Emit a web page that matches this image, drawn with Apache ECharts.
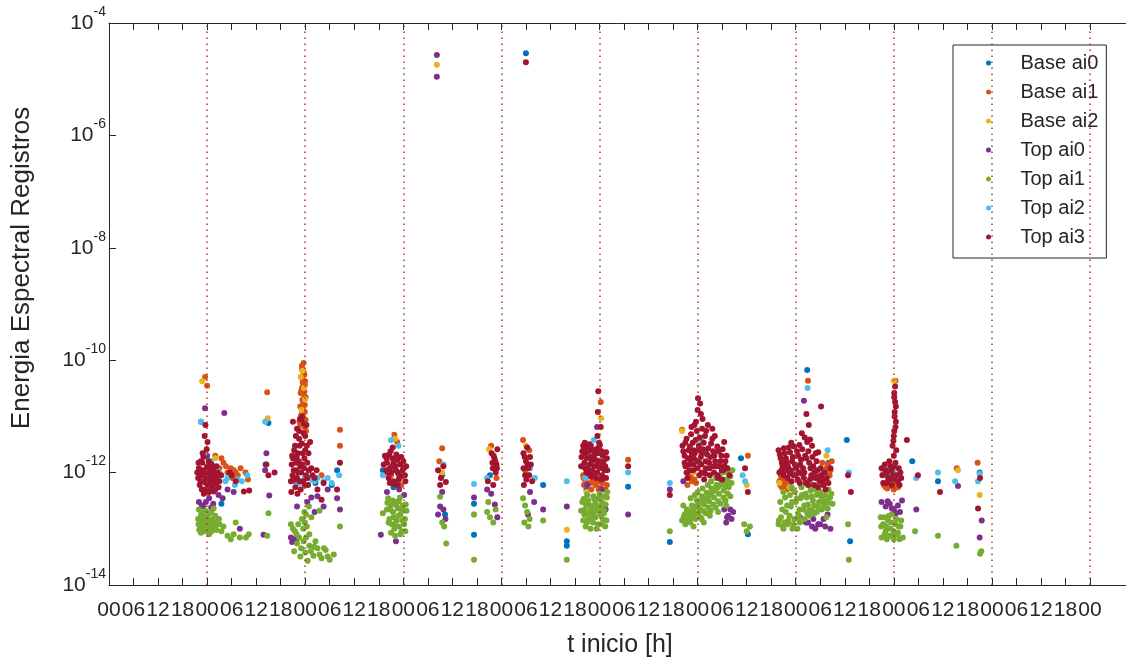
<!DOCTYPE html>
<html><head><meta charset="utf-8">
<script src="https://cdn.jsdelivr.net/npm/echarts@6/dist/echarts.min.js"></script>
<style>html,body{margin:0;padding:0;background:#fff}#c{width:1126px;height:662px}</style>
</head><body><div id="c"></div>
<script>
// ---------- DATA ----------
const seriesNames = ['Base ai0','Base ai1','Base ai2','Top ai0','Top ai1','Top ai2','Top ai3'];
const seriesColors = ['#0072BD','#D95319','#EDB120','#7E2F8E','#77AC30','#4DBEEE','#A2142F'];
const xTickValues = [0,6,12,18,24,30,36,42,48,54,60,66,72,78,84,90,96,102,108,114,120,126,132,138,144,150,156,162,168,174,180,186,192,198,204,210,216,222,228,234,240];
const xTickLabels = ['00','06','12','18','00','06','12','18','00','06','12','18','00','06','12','18','00','06','12','18','00','06','12','18','00','06','12','18','00','06','12','18','00','06','12','18','00','06','12','18','00'];
const yTickValues = [1e-14,1e-12,1e-10,1e-8,1e-6,1e-4];
const yTickExponents = ['-14','-12','-10','-8','-6','-4'];
const dayLines = [24,48,72,96,120,144,168,192,216,240];

// [t inicio (h), energia]
const baseAi0 = [[23.0,1.0e-12],[22.5,8e-12],[27.5,2.8e-13],[39.0,7.6e-12],[38.3,1.4e-12],[45.5,7e-13],[50.5,6.5e-13],[54.5,6e-13],[55.8,1.1e-12],[67.0,1.1e-12],[69.6,5.5e-13],[81.5,9e-13],[82.2,1.8e-13],[89.3,2.8e-13],[89.3,7.8e-14],[93.2,9e-13],[102.5,9e-13],[106.2,6e-13],[112.0,5e-14],[112.0,6e-14],[116.8,5e-13],[127.0,5.6e-13],[137.2,5.8e-14],[144.5,1.5e-12],[146.0,2.4e-12],[154.6,1.8e-12],[156.3,8e-14],[166.0,1.2e-12],[170.8,6.7e-11],[176.0,1.5e-12],[180.5,3.8e-12],[181.3,6e-14],[190.5,9e-13],[191.5,1.1e-12],[196.5,1.6e-12],[202.8,7e-13],[213.0,1.0e-12],[102.0,2.9e-5]];
const baseAi1 = [[23.5,5e-11],[24.0,3.5e-11],[24.5,1.6e-12],[26.0,2e-12],[27.0,1.2e-12],[28.0,1.5e-12],[29.0,1.0e-12],[30.5,1.1e-12],[25.2,8e-13],[31.5,9e-13],[38.7,2.7e-11],
 [28.6,1.3e-12],[29.8,1.2e-12],[31.0,1.0e-12],[32.2,1.2e-12],[33.4,1.0e-12],[34.0,7.5e-13],[27.5,1.8e-12],[30.2,8e-13],
 [47.6,8.9e-11],[47.2,7e-11],[47.8,5.5e-11],[47.4,4.5e-11],[47.9,3.6e-11],[47.1,3e-11],[47.7,2.4e-11],[47.3,1.95e-11],[47.9,1.6e-11],[47.5,1.3e-11],[47.0,1.05e-11],[48.1,8.7e-12],[46.8,7.1e-12],[48.2,5.5e-12],[47.4,4e-11],[47.8,2.8e-11],
 [47.2,8e-11],[47.6,6.2e-11],[47.0,5e-11],[48.0,4.2e-11],[47.3,3.3e-11],[46.9,2.6e-11],[48.1,2.2e-11],[47.5,1.8e-11],[46.8,1.5e-11],[47.9,1.2e-11],[47.3,9.5e-12],[47.8,6.5e-12],[46.6,8e-12],
 [56.5,5.8e-12],[56.5,3e-12],[52.0,9e-13],
 [69.8,4.7e-12],[70.5,3.5e-12],[69.0,9e-13],[71.5,6e-13],[81.5,2.7e-12],[80.8,1.6e-12],[93.5,3e-12],[94.8,8e-13],[101.3,3.8e-12],[102.8,2.5e-12],[101.8,1.1e-12],
 [120.3,1.8e-11],[116.0,9e-13],[116.6,7e-13],[117.2,8.5e-13],[117.8,6.5e-13],[118.4,7.5e-13],[119.0,6e-13],[119.6,7e-13],[120.2,5.5e-13],[120.8,6.5e-13],[121.4,5e-13],[118.0,5e-13],[116.2,6e-13],
 [116.1,8e-13],[117.0,6e-13],[118.8,9e-13],[119.8,5e-13],[121.0,8e-13],[121.8,6e-13],[127.0,1.7e-12],
 [142.0,8e-13],[142.6,7e-13],[143.2,7.5e-13],[141.5,6e-13],[140.2,5.8e-12],[156.3,2e-12],[142.3,9e-13],[143.6,6.5e-13],
 [171.0,4.3e-11],[164.0,7e-13],[164.6,5.5e-13],[165.2,6.5e-13],[165.8,5e-13],[166.4,6e-13],[167.0,5.2e-13],[164.4,8.5e-13],[174.5,1.5e-12],[175.5,1.2e-12],[176.3,9e-13],[175.0,7e-13],[176.8,1.6e-12],
 [164.2,6e-13],[164.9,7.5e-13],[165.5,5.8e-13],[166.1,7e-13],[166.8,5.5e-13],[174.8,1.0e-12],[175.9,1.4e-12],[176.5,1.1e-12],
 [189.6,6e-13],[190.4,5.2e-13],[191.2,5.8e-13],[192.0,5e-13],[193.0,5.5e-13],[192.4,4.3e-11],[190.0,5.5e-13],[190.8,6e-13],[192.6,6e-13],[207.4,1.2e-12],[212.5,1.5e-12]];
const baseAi2 = [[22.8,4.2e-11],[27.0,1.0e-12],[26.0,1.8e-12],[38.8,9.3e-12],[47.3,6.5e-11],[47.7,3.2e-11],[47.1,1.3e-11],[48.0,2.0e-11],[46.9,5e-11],[70.0,4.0e-12],[81.5,1.0e-12],[89.3,1.8e-13],[93.0,2.6e-12],[102.0,3.0e-12],[112.0,9.6e-14],[120.4,9.3e-12],[118.0,9e-13],[116.8,4.5e-13],[140.2,5.5e-12],[143.0,1.0e-12],[156.0,6e-13],[164.0,6.5e-13],[165.0,4.5e-13],[166.5,5.5e-13],[175.5,2.0e-12],[191.0,6.5e-13],[192.0,4.3e-11],[207.7,1.1e-12],[213.0,4e-13],[80.2,1.8e-5]];
const topAi0 = [[22.0,3e-13],[23.0,2.5e-13],[24.5,3.5e-13],[25.5,2.8e-13],[23.5,1.4e-11],[26.8,4e-13],[27.8,3.5e-13],[29.0,5e-13],[30.5,4.5e-13],[28.2,1.15e-11],[32.0,1.0e-13],[24.0,2e-12],[22.4,1.6e-12],[23.7,3e-13],[25.0,2.4e-13],[22.7,2.6e-13],
 [38.5,2.2e-12],[39.2,3.9e-13],[38.2,1.1e-12],[37.8,7.8e-14],
 [44.5,7e-14],[45.3,6.5e-14],[44.8,5.8e-14],[45.8,6e-14],[46.0,2.5e-13],[48.5,3e-13],[49.5,3.6e-13],[51.0,3.8e-13],[52.5,2.5e-13],[53.5,5e-13],[55.8,3.5e-13],[56.5,2.2e-13],[50.3,2e-13],
 [68.0,4.5e-13],[71.0,5e-13],[72.2,4e-13],[66.5,7.8e-14],[70.2,6e-14],
 [81.0,2.5e-13],[81.8,2.2e-13],[80.5,1.8e-13],[82.3,1.5e-13],[81.5,4.5e-13],
 [89.3,3.6e-13],[92.5,5e-13],[93.5,4.2e-13],[94.4,2.7e-13],[95.0,1.6e-13],
 [103.0,4.5e-13],[104.0,3e-13],[106.2,2.2e-13],[102.5,1.8e-13],[112.0,2.5e-13],
 [117.0,6e-13],[119.4,6.5e-12],[120.5,5e-13],[121.5,2.2e-13],[127.0,1.8e-13],[137.2,5e-13],
 [140.5,7e-13],[150.5,2.2e-13],[151.5,1.7e-13],[152.3,1.5e-13],[151.0,1.3e-13],[152.7,2.0e-13],[151.2,1.6e-13],[152.0,2.2e-13],
 [170.0,1.9e-11],[169.0,1.6e-13],[170.5,1.3e-13],[172.0,1.1e-13],[173.5,1.2e-13],[174.8,1.5e-13],[175.8,1.8e-13],[176.5,1.0e-13],[172.8,1.0e-13],[171.0,1.3e-13],[172.3,1.5e-13],[174.0,1.2e-13],[175.2,1.1e-13],
 [189.0,3e-13],[190.0,2.5e-13],[191.0,2.8e-13],[192.0,2.2e-13],[193.0,2.6e-13],[194.0,3.2e-13],[192.5,1.9e-13],[197.5,2.2e-13],[190.5,3.1e-13],[191.5,2.3e-13],[193.5,2.0e-13],
 [207.7,5.8e-13],[213.5,1.4e-13],[213.0,7e-14],[80.2,2.7e-5],[80.2,1.1e-5]];
const topAi1 = [[21.8,1.5e-13],[22.3,1.1e-13],[22.8,1.3e-13],[23.3,9e-14],[23.8,1.2e-13],[24.3,1.0e-13],[24.8,1.4e-13],[25.3,1.1e-13],[25.8,1.3e-13],[26.3,9.5e-14],[22.0,2.2e-13],[23.0,1.8e-13],[24.0,1.6e-13],[25.0,2.0e-13],[26.0,1.7e-13],[22.5,8.5e-14],[24.5,8e-14],[27.0,1.2e-13],[27.5,9e-14],[28.0,1.1e-13],[29.0,7.5e-14],[30.5,8e-14],[32.0,7e-14],[33.5,7e-14],[34.2,8e-14],[31.0,1.3e-13],[29.8,6.5e-14],
 [21.9,1.2e-13],[22.4,1.6e-13],[22.9,1.0e-13],[23.4,1.4e-13],[23.9,9.5e-14],[24.4,1.3e-13],[24.9,1.1e-13],[25.4,1.5e-13],[25.9,1.0e-13],[26.5,1.2e-13],[22.6,1.9e-13],[23.6,2.1e-13],[24.6,1.9e-13],[25.6,2.3e-13],[23.1,1.15e-13],[24.1,1.15e-13],[25.1,9e-14],[26.9,1.5e-13],[22.1,9.5e-14],
 [39.0,1.9e-13],[38.7,7.5e-14],
 [44.5,1.2e-13],[45.5,9e-14],[46.5,7e-14],[47.2,1.5e-13],[47.8,2.0e-13],[48.4,1.1e-13],[49.0,8e-14],[46.0,5.5e-14],[47.0,4.5e-14],[48.0,3.8e-14],[49.0,5e-14],[50.0,3.3e-14],[51.0,4.5e-14],[52.0,3e-14],[53.0,4.2e-14],[54.0,2.8e-14],[46.8,3.2e-14],[48.6,2.7e-14],[50.5,6e-14],[45.3,4e-14],[55.0,3.5e-14],[49.5,1.6e-13],[48.9,2.5e-13],[51.5,2.1e-13],[56.5,1.1e-13],
 [45.0,1.0e-13],[45.9,8e-14],[46.3,1.2e-13],[47.5,1.0e-13],[48.2,7e-14],[47.6,6e-14],[49.4,4e-14],[50.2,4.8e-14],[51.5,3.5e-14],[52.6,4.5e-14],[53.5,3.2e-14],[47.9,1.3e-13],[48.2,1.8e-13],
 [68.3,3.5e-13],[68.9,2.6e-13],[69.5,2.0e-13],[70.1,3e-13],[70.7,2.3e-13],[71.3,1.8e-13],[71.9,2.6e-13],[72.4,1.5e-13],[68.6,1.5e-13],[69.2,1.2e-13],[69.8,1.0e-13],[70.4,1.4e-13],[71.0,1.1e-13],[71.6,9e-14],[72.2,1.2e-13],[70.0,7.5e-14],[69.0,8.5e-14],[72.8,2.1e-13],[71.2,3.6e-13],[68.0,2.2e-13],[67.0,1.9e-13],
 [68.1,2.9e-13],[68.8,2.2e-13],[69.4,3.2e-13],[70.3,2.6e-13],[70.9,3.1e-13],[71.6,2.2e-13],[72.6,2.7e-13],[68.4,1.3e-13],[69.6,1.6e-13],[70.8,1.7e-13],[71.8,1.4e-13],[72.5,9e-14],[69.9,1.2e-13],[71.3,8e-14],
 [81.0,3.7e-13],[81.5,1.3e-13],[82.0,1.1e-13],[82.5,5.5e-14],
 [89.3,1.8e-13],[89.3,2.8e-14],[92.5,2.0e-13],[93.2,1.6e-13],[94.0,1.3e-13],[94.6,2.2e-13],[92.8,3.0e-13],
 [101.3,3.5e-13],[101.8,2.6e-13],[102.3,2.0e-13],[102.9,1.5e-13],[101.6,1.3e-13],[102.6,1.1e-13],[106.2,1.4e-13],[112.0,2.8e-14],
 [115.8,3e-13],[116.4,2.2e-13],[117.0,4e-13],[117.6,2.6e-13],[118.2,1.8e-13],[118.8,3.3e-13],[119.4,2.4e-13],[120.0,4.2e-13],[120.6,3e-13],[121.2,2.1e-13],[121.8,3.6e-13],[116.0,1.4e-13],[116.6,1.1e-13],[117.2,1.5e-13],[117.8,1.0e-13],[118.4,1.3e-13],[119.0,1.6e-13],[119.6,1.2e-13],[120.2,1.8e-13],[120.8,1.5e-13],[121.4,1.1e-13],[115.5,2.1e-13],[118.6,2.6e-13],[121.9,4.5e-13],
 [116.1,3.4e-13],[116.7,2.7e-13],[117.3,3.2e-13],[117.9,2.2e-13],[118.5,3.8e-13],[119.1,2.8e-13],[119.7,3.5e-13],[120.3,2.5e-13],[120.9,3.8e-13],[121.5,2.7e-13],[116.3,1.8e-13],[117.5,1.9e-13],[118.7,2.0e-13],[119.9,2.1e-13],[121.1,1.9e-13],[116.9,1.3e-13],[118.1,1.5e-13],[119.3,1.0e-13],[120.5,1.2e-13],[121.7,1.4e-13],
 [137.2,9e-14],
 [140.2,1.4e-13],[140.8,1.8e-13],[141.4,2.2e-13],[142.0,1.5e-13],[142.6,2.6e-13],[143.2,1.9e-13],[143.8,3.2e-13],[144.4,2.3e-13],[145.0,3.8e-13],[145.6,2.7e-13],[146.2,4.4e-13],[146.8,3.1e-13],[147.4,5.2e-13],[148.0,3.6e-13],[148.6,6e-13],[149.2,4.2e-13],[149.8,7e-13],[150.4,4.8e-13],[151.0,7.5e-13],[151.6,5.5e-13],[152.3,6.5e-13],[141.0,1.2e-13],[142.2,1.3e-13],[143.5,1.5e-13],[144.7,1.6e-13],[146.0,1.9e-13],[147.2,2.1e-13],[148.4,2.4e-13],[149.6,2.8e-13],[150.8,3.2e-13],[152.0,3.8e-13],[143.0,1.1e-13],[145.5,1.3e-13],[140.5,2.6e-13],[142.3,3.5e-13],[144.0,4.5e-13],[146.5,6e-13],[148.5,8e-13],[150.2,1.0e-12],[152.5,1.1e-12],[155.4,1.2e-13],[156.0,9e-14],[156.8,1.1e-13],
 [140.6,1.6e-13],[141.2,1.9e-13],[141.8,1.7e-13],[142.4,2.0e-13],[143.0,2.3e-13],[143.6,2.5e-13],[144.2,2.8e-13],[144.8,3.0e-13],[145.4,3.3e-13],[146.0,3.5e-13],[146.6,3.8e-13],[147.2,4.2e-13],[147.8,4.6e-13],[148.4,5e-13],[149.0,5.5e-13],[149.6,6e-13],[150.2,6.5e-13],[150.8,5.8e-13],[151.4,6.8e-13],[152.0,8.5e-13],[141.6,1.4e-13],[142.8,1.6e-13],[144.1,1.9e-13],[145.3,2.1e-13],[146.6,2.4e-13],[147.8,2.7e-13],[149.0,3.1e-13],[150.3,3.6e-13],[151.4,4.2e-13],[145.0,1.5e-13],[147.0,1.7e-13],[149.0,2.0e-13],[151.0,2.6e-13],[143.3,4e-13],[145.2,5.2e-13],[147.3,7e-13],[149.3,9e-13],[151.3,1.0e-12],
 [163.8,1.2e-13],[164.4,1.6e-13],[165.0,1.0e-13],[165.6,2.0e-13],[166.2,1.4e-13],[166.8,2.5e-13],[167.4,1.2e-13],[168.0,3.0e-13],[168.6,1.8e-13],[169.2,3.5e-13],[169.8,2.2e-13],[170.4,4.2e-13],[171.0,2.7e-13],[171.6,4.8e-13],[172.2,3.2e-13],[172.8,5e-13],[173.4,2.5e-13],[174.0,4.5e-13],[174.6,3e-13],[175.2,4e-13],[175.8,2.3e-13],[176.4,3.6e-13],[177.0,2.8e-13],[164.2,3e-13],[165.4,3.6e-13],[166.6,4e-13],[167.8,4.5e-13],[169.0,1.3e-13],[170.2,1.5e-13],[171.4,1.7e-13],[172.6,1.9e-13],[168.4,1.0e-13],[173.8,6e-13],[176.0,5e-13],[175.5,1.6e-13],[180.8,1.2e-13],[181.0,2.8e-14],
 [163.9,1.4e-13],[164.7,2.2e-13],[165.3,1.3e-13],[165.9,2.6e-13],[166.5,1.7e-13],[167.1,3.0e-13],[167.7,1.5e-13],[168.3,3.5e-13],[168.9,2.2e-13],[169.5,4.0e-13],[170.1,2.6e-13],[170.7,3.6e-13],[171.3,2.2e-13],[171.9,3.8e-13],[172.5,2.6e-13],[173.1,4.0e-13],[173.7,3.0e-13],[174.3,3.7e-13],[174.9,2.6e-13],[175.5,3.2e-13],[176.1,2.9e-13],[176.7,4.2e-13],[164.8,1.1e-13],[166.0,1.2e-13],[167.2,1.0e-13],[168.9,1.5e-13],[170.8,1.9e-13],[172.0,2.1e-13],[173.2,2.0e-13],[174.4,2.2e-13],[165.0,4.5e-13],[167.0,5.5e-13],[169.4,5.5e-13],[171.8,6e-13],
 [188.8,1.6e-13],[189.4,1.2e-13],[190.0,9e-14],[190.6,1.4e-13],[191.2,1.0e-13],[191.8,7.5e-14],[192.4,1.2e-13],[193.0,8.5e-14],[193.6,1.1e-13],[189.0,7e-14],[190.3,6.5e-14],[192.0,6.5e-14],[194.2,7e-14],[191.5,1.8e-13],[197.2,9e-14],
 [188.9,1.1e-13],[189.6,1.6e-13],[190.2,1.1e-13],[190.8,1.7e-13],[191.4,1.3e-13],[192.0,9e-14],[192.6,1.5e-13],[193.2,1.1e-13],[193.8,1.4e-13],[189.8,8e-14],[191.0,7.5e-14],[192.8,8e-14],[193.4,6.5e-14],
 [202.8,7.5e-14],[207.3,5e-14],[213.4,4e-14],[213.1,3.6e-14]];
const topAi2 = [[22.5,8e-12],[23.3,2.2e-12],[25.0,1.6e-12],[26.5,1.1e-12],[27.5,9e-13],[29.0,8e-13],[30.8,6e-13],[32.5,7e-13],[33.8,9e-13],[24.2,1.2e-12],[26.0,9e-13],[28.5,7e-13],[31.5,7.5e-13],[38.2,8e-12],[45.0,7.5e-13],[46.5,6.5e-13],[46.0,7e-13],[47.8,7.8e-13],[50.2,7e-13],[49.5,7.5e-13],[51.0,8e-13],[52.5,7e-13],[53.5,8e-13],[54.5,6.5e-13],[56.3,9e-13],[67.0,9e-13],[69.0,3.8e-12],[70.8,3e-12],[81.8,1.4e-12],[89.3,6.3e-13],[92.5,8e-13],[103.0,1.2e-12],[104.2,8e-13],[112.0,7e-13],[118.6,3.8e-12],[116.5,8e-13],[117.5,1.1e-12],[120.9,1.4e-12],[127.0,1.0e-12],[137.2,6.5e-13],[155.0,9e-13],[155.6,7e-13],[145.0,3.6e-12],[170.9,3.2e-11],[165.5,1.5e-12],[167.5,1.1e-12],[169.0,1.3e-12],[172.5,1.1e-12],[175.8,2.5e-12],[181.0,1.0e-12],[189.5,1.0e-12],[190.5,1.1e-12],[191.5,9e-13],[192.5,1.2e-12],[190.9,1.15e-12],[191.9,1.0e-12],[197.5,8e-13],[202.8,1.0e-12],[207.0,7e-13],[213.0,9.5e-13],[212.6,7e-13]];
const topAi3 = [[22.0,1.2e-12],[22.5,9e-13],[23.0,7e-13],[23.3,1.1e-12],[23.8,8e-13],[24.2,6e-13],[24.6,9.5e-13],[25.0,7.5e-13],[25.3,5.5e-13],[25.8,8.5e-13],[26.2,6.5e-13],[26.6,1.0e-12],[27.0,7e-13],[22.2,6e-13],[23.5,5e-13],[24.8,4.8e-13],[25.5,1.2e-12],[22.8,1.5e-12],[24.0,1.3e-12],[26.0,5e-13],[27.4,9e-13],[23.2,4.2e-13],[21.8,8e-13],[23.6,7e-12],[24.1,3.5e-12],[22.9,2.2e-12],
 [21.6,1.0e-12],[22.6,1.1e-12],[23.4,9e-13],[23.9,1.1e-12],[24.4,8e-13],[24.9,1.1e-12],[25.6,9.5e-13],[26.4,8e-13],[22.4,7e-13],[23.7,6.5e-13],[24.7,6.5e-13],[25.9,6.5e-13],[26.8,5.5e-13],[22.7,5e-13],[24.3,4.4e-13],[25.6,4.6e-13],[21.9,1.5e-12],[23.1,1.9e-12],[24.4,1.6e-12],[25.1,1.4e-12],[26.3,1.3e-12],[23.9,2.6e-12],[23.4,4.5e-12],
 [29.5,1.0e-12],[31.0,7e-13],[33.0,4.6e-13],[34.3,4.8e-13],[30.0,9e-13],[38.5,1.4e-12],[39.0,9e-13],[40.5,1.0e-12],
 [45.0,8e-12],[46.0,6e-12],[47.0,9e-12],[47.6,5e-12],[48.3,7e-12],[46.5,4e-12],[45.5,3e-12],[47.2,3.3e-12],[48.0,2.5e-12],[46.2,2.2e-12],[44.8,2e-12],[47.8,1.8e-12],[45.8,1.5e-12],[46.8,1.3e-12],[48.5,1.5e-12],[45.2,1.1e-12],[47.0,1.0e-12],[48.2,9e-13],[46.0,8e-13],[44.5,7e-13],[47.5,7e-13],[45.6,5.5e-13],[46.9,5e-13],[48.7,6e-13],[49.5,1.2e-12],[50.3,8e-13],[45.0,1.8e-12],[47.3,1.4e-12],[46.3,1.0e-12],[48.8,2.2e-12],[49.2,3.5e-12],[44.6,4.5e-13],[46.1,4.2e-13],[51.0,5e-13],[52.5,6.5e-13],[56.5,1.5e-12],[55.8,5e-13],[52.0,3.3e-13],
 [45.3,2.5e-12],[46.6,3e-12],[47.4,2.2e-12],[48.4,3e-12],[45.9,1.9e-12],[46.4,1.6e-12],[47.7,1.2e-12],[48.9,1.1e-12],[44.9,9e-13],[45.9,1.1e-12],[46.6,7e-13],[47.9,6e-13],[48.5,8e-13],[45.4,7.5e-13],[46.5,5.5e-12],[47.7,7.5e-12],[48.0,4.5e-12],[45.7,4.5e-12],[46.7,9e-12],[47.3,1.0e-11],[44.7,1.4e-12],[49.8,9e-13],[50.8,1.1e-12],
 [67.5,2e-12],[68.0,1.5e-12],[68.7,1.2e-12],[69.3,1.8e-12],[70.0,1.3e-12],[70.6,1.0e-12],[71.2,1.4e-12],[71.8,1.1e-12],[72.4,9e-13],[68.4,8e-13],[69.6,7e-13],[70.9,7.5e-13],[72.0,1.6e-12],[69.0,1.0e-12],[67.8,1.1e-12],[71.5,8.5e-13],[70.3,2.1e-12],[72.7,1.3e-12],[69.9,6.2e-13],[68.9,2.4e-12],
 [67.2,1.4e-12],[67.9,1.8e-12],[68.5,2.1e-12],[69.6,1.5e-12],[70.5,1.7e-12],[71.5,1.9e-12],[72.1,1.2e-12],[68.2,1.0e-12],[69.2,1.3e-12],[70.2,1.1e-12],[71.0,9e-13],[72.5,7e-13],[68.7,6.5e-13],[70.6,6e-13],[69.4,2.8e-12],
 [80.5,1.1e-12],[81.2,8e-13],[81.8,1.3e-12],[82.4,6.8e-13],[81.0,6e-13],
 [93.6,2.2e-12],[94.3,1.8e-12],[94.8,1.4e-12],[93.9,1.2e-12],[94.6,1.0e-12],[92.7,7e-13],[94.0,6e-13],[95.0,2.6e-12],[94.1,2.0e-12],[94.5,1.6e-12],[93.8,1.5e-12],[94.9,1.2e-12],
 [101.4,2.2e-12],[102.0,1.6e-12],[102.6,1.2e-12],[101.8,9e-13],[103.2,1.4e-12],[102.3,2.8e-12],[103.5,7e-13],[101.5,6e-13],[101.7,1.9e-12],[102.4,1.4e-12],[103.0,1.9e-12],[101.4,1.2e-12],[102.8,9e-13],[102.1,7.5e-13],
 [116.0,3e-12],[116.6,2.2e-12],[117.2,2.8e-12],[117.8,1.9e-12],[118.4,2.5e-12],[119.0,1.7e-12],[119.6,2.2e-12],[120.2,1.5e-12],[120.8,2e-12],[121.4,1.3e-12],[121.8,1.8e-12],[116.3,1.5e-12],[117.0,1.2e-12],[117.6,1.4e-12],[118.2,1.1e-12],[118.8,1.3e-12],[119.4,1.0e-12],[120.0,1.2e-12],[120.6,9e-13],[121.2,1.1e-12],[116.8,1.0e-12],[118.0,8.5e-13],[119.2,8e-13],[120.4,7.5e-13],[121.6,8e-13],[115.5,1.3e-12],[115.8,2.4e-12],[119.8,2.8e-12],[119.7,2.8e-11],[119.9,3.4e-12],[120.3,6.5e-12],[117.5,3.2e-12],
 [115.6,1.9e-12],[116.2,2.6e-12],[116.9,1.8e-12],[117.4,2.4e-12],[118.1,1.6e-12],[118.6,2.0e-12],[119.2,2.6e-12],[119.8,1.6e-12],[120.5,2.4e-12],[121.0,1.6e-12],[121.6,2.3e-12],[116.5,1.2e-12],[117.3,9.5e-13],[118.5,1.0e-12],[119.6,1.4e-12],[120.9,1.3e-12],[121.9,1.1e-12],[117.9,3.0e-12],[120.1,3.1e-12],[116.4,3.4e-12],[119.5,4.5e-12],[119.6,1.2e-11],
 [127.0,1.3e-12],[137.2,4e-13],
 [140.3,3e-12],[140.8,2e-12],[141.3,4e-12],[141.8,2.5e-12],[142.3,1.7e-12],[142.8,3.4e-12],[143.3,2.2e-12],[143.8,5.5e-12],[144.3,3e-12],[144.8,1.9e-12],[145.3,2.6e-12],[145.8,4.5e-12],[146.3,2.1e-12],[146.8,1.5e-12],[147.3,3.3e-12],[147.8,2.4e-12],[148.3,1.6e-12],[148.8,2.9e-12],[149.3,1.3e-12],[149.8,2e-12],[150.3,1.1e-12],[150.8,1.6e-12],[151.3,1.2e-12],[141.0,1.3e-12],[142.0,1.1e-12],[143.0,1.4e-12],[144.0,1.2e-12],[145.0,1.0e-12],[146.0,1.2e-12],[147.0,9e-13],[148.0,1.0e-12],[143.6,8e-12],[144.1,2.1e-11],[144.6,1.7e-11],[145.2,9e-12],[144.0,1.3e-11],[146.5,7e-12],[147.6,6e-12],[142.5,6.5e-12],[141.5,8e-13],[149.0,8e-13],[150.0,7.5e-13],[151.8,9e-13],[155.6,1.2e-12],[156.3,4.5e-13],[145.6,7.5e-13],[143.0,2.5e-12],
 [140.5,2.4e-12],[141.0,3.4e-12],[141.6,1.8e-12],[142.1,2.9e-12],[142.6,2.1e-12],[143.1,1.8e-12],[143.5,3.8e-12],[144.0,2.5e-12],[144.5,4.2e-12],[145.0,2.2e-12],[145.5,3.4e-12],[146.0,1.6e-12],[146.6,2.7e-12],[147.1,1.9e-12],[147.6,4e-12],[148.1,2.0e-12],[148.6,1.3e-12],[149.1,2.4e-12],[149.6,1.6e-12],[150.1,2.6e-12],[150.6,1.3e-12],[151.1,2.0e-12],[140.8,1.5e-12],[141.9,1.4e-12],[142.9,1.1e-12],[143.9,1.6e-12],[144.9,1.4e-12],[145.9,9.5e-13],[146.9,1.2e-12],[147.9,1.3e-12],[148.9,9e-13],[149.9,1.1e-12],[141.3,1.0e-12],[144.4,9e-13],[142.4,4.8e-12],[145.1,6e-12],[146.1,5.5e-12],[143.2,7e-12],[144.8,1.1e-11],[148.2,4.5e-12],[150.5,3.5e-12],
 [163.8,2.5e-12],[164.3,1.8e-12],[164.8,1.3e-12],[165.3,2.2e-12],[165.8,1.5e-12],[166.3,2.8e-12],[166.8,1.1e-12],[167.3,1.9e-12],[167.8,1.4e-12],[168.3,2.4e-12],[168.8,1.0e-12],[169.3,1.7e-12],[169.8,1.2e-12],[170.3,2.0e-12],[170.8,3.5e-12],[171.3,1.5e-12],[171.8,9e-13],[172.3,1.3e-12],[172.8,8e-13],[173.3,1.1e-12],[173.8,7e-13],[174.3,9e-13],[174.8,6e-13],[175.3,5e-13],[176.0,6.5e-13],[164.0,1.0e-12],[165.0,9e-13],[166.0,8e-13],[167.0,7e-13],[168.0,9e-13],[169.0,6.5e-13],[170.0,8e-13],[171.0,6e-13],[169.5,5e-12],[170.6,1.1e-11],[171.2,7e-12],[170.2,4.2e-12],[172.0,3e-12],[174.2,1.5e-11],[173.5,2.3e-12],[176.5,1.2e-12],[180.8,9e-13],[181.5,4.5e-13],
 [164.1,2.1e-12],[164.6,1.5e-12],[165.1,2.7e-12],[165.6,1.8e-12],[166.1,1.3e-12],[166.6,2.3e-12],[167.1,1.6e-12],[167.6,2.9e-12],[168.1,1.2e-12],[168.6,2.0e-12],[169.1,1.4e-12],[169.6,2.6e-12],[170.1,1.0e-12],[170.6,1.8e-12],[171.1,2.4e-12],[171.6,1.2e-12],[172.1,1.9e-12],[172.6,1.0e-12],[173.1,1.6e-12],[173.6,8.5e-13],[174.1,1.2e-12],[174.6,7.5e-13],[175.1,1.0e-12],[164.5,1.1e-12],[165.5,1.1e-12],[166.5,9.5e-13],[167.5,9e-13],[168.5,7.5e-13],[169.5,9.5e-13],[170.5,6.5e-13],[171.5,7.5e-13],[172.5,6e-13],[173.5,5.5e-13],[166.9,3.4e-12],[168.9,3.1e-12],[171.5,3.9e-12],[172.9,2.2e-12],[175.6,8e-13],
 [190.0,1.1e-12],[190.6,8e-13],[191.2,1.3e-12],[191.8,9e-13],[192.4,1.5e-12],[193.0,7e-13],[193.6,1.0e-12],[189.4,6.5e-13],[189.0,1.2e-12],[191.5,6e-13],[192.0,2e-12],[192.3,3.4e-11],[192.1,2.2e-11],[192.5,1.5e-11],[192.2,1e-11],[192.4,6.5e-12],[192.0,4.5e-12],[191.7,3e-12],
 [189.2,9e-13],[189.8,1.4e-12],[190.3,1.0e-12],[190.9,1.6e-12],[191.4,1.1e-12],[192.0,1.3e-12],[192.6,9e-13],[193.2,1.2e-12],[193.8,8e-13],[190.2,6.5e-13],[191.0,7.5e-13],[192.2,7.5e-13],[193.4,6e-13],[192.1,2.6e-11],[192.3,1.8e-11],[192.2,1.2e-11],[192.5,8e-12],[192.1,5.5e-12],[191.9,3.7e-12],[192.6,2.5e-12],
 [195.2,3.8e-12],[197.9,9e-13],[203.3,4.5e-13],[212.6,2.3e-13],[213.1,8e-13],
 [102.0,2.0e-5]];
const seriesData = [baseAi0, baseAi1, baseAi2, topAi0, topAi1, topAi2, topAi3];

// ---------- CHART ----------
const FONT = '"Liberation Sans", Arial, Helvetica, sans-serif';
const TXT = '#262626';
const chart = echarts.init(document.getElementById('c'), null, {renderer: 'canvas'});

function xLabel(v) {
  const i = xTickValues.findIndex(t => Math.abs(t - v) < 1e-6);
  return i >= 0 ? xTickLabels[i] : '';
}
function yLabel(v) {
  const i = yTickValues.findIndex(t => Math.abs(Math.log10(t) - Math.log10(v)) < 1e-6);
  return i >= 0 ? '{b|10}{e|' + yTickExponents[i] + '}' : '';
}

const axisCommonX = {
  type: 'value', min: 0, max: 248.8,
  axisLine: {show: true, onZero: false, lineStyle: {color: TXT, width: 1}},
  axisTick: {show: true, inside: true, length: 7, customValues: xTickValues, lineStyle: {color: TXT, width: 1}},
  splitLine: {show: false}
};

const scatterSeries = seriesNames.map((n, k) => ({
  name: n, type: 'scatter', data: seriesData[k], symbol: 'circle', symbolSize: 6,
  itemStyle: {color: seriesColors[k], opacity: 1}, z: 3, silent: true
}));

const option = {
  animation: false,
  backgroundColor: '#ffffff',
  textStyle: {fontFamily: FONT},
  grid: {left: 109, right: 0, top: 23, bottom: 77, containLabel: false},
  xAxis: [
    Object.assign({}, axisCommonX, {
      position: 'bottom',
      axisLabel: {show: true, customValues: xTickValues, formatter: xLabel, fontSize: 21, color: TXT, margin: 15, fontFamily: FONT}
    }),
    Object.assign({}, axisCommonX, {position: 'top', axisLabel: {show: false}})
  ],
  yAxis: {
    type: 'log', logBase: 10, min: 1e-14, max: 1e-4,
    axisLine: {show: true, onZero: false, lineStyle: {color: TXT, width: 1}},
    axisTick: {show: true, inside: true, length: 7, customValues: yTickValues, lineStyle: {color: TXT}},
    minorTick: {show: false},
    splitLine: {show: false},
    axisLabel: {
      show: true, customValues: yTickValues, formatter: yLabel, margin: 3, color: TXT,
      rich: {
        b: {fontSize: 21, lineHeight: 36, verticalAlign: 'middle', color: TXT, fontFamily: FONT},
        e: {fontSize: 14, lineHeight: 14, verticalAlign: 'top', color: TXT, fontFamily: FONT}
      }
    }
  },
  legend: {
    orient: 'vertical', left: 953, top: 45, data: seriesNames, selectedMode: false,
    itemWidth: 54, itemHeight: 5, itemGap: 9, padding: [8, 8, 11, 33], icon: 'circle',
    backgroundColor: '#ffffff', borderColor: TXT, borderWidth: 1, borderRadius: 0,
    textStyle: {fontSize: 20, color: TXT, lineHeight: 20, fontFamily: FONT}
  },
  graphic: [
    {type: 'text', x: 620, y: 645, z: 10,
     style: {text: 't inicio [h]', fill: TXT, font: '25px ' + FONT, textAlign: 'center', textVerticalAlign: 'middle'}},
    {type: 'text', x: 22, y: 268, rotation: Math.PI / 2, z: 10,
     style: {text: 'Energia Espectral Registros', fill: TXT, font: '26px ' + FONT, textAlign: 'center', textVerticalAlign: 'middle'}}
  ],
  series: [{
    name: 'dias', type: 'scatter', data: [], z: 1, silent: true,
    markLine: {
      silent: true, symbol: 'none', animation: false, label: {show: false},
      lineStyle: {color: '#a8392c', type: [1.5, 4.5], width: 1.5},
      emphasis: {disabled: true},
      data: dayLines.map(d => ({xAxis: d}))
    }
  }].concat(scatterSeries)
};
chart.setOption(option);
</script>
</body></html>
